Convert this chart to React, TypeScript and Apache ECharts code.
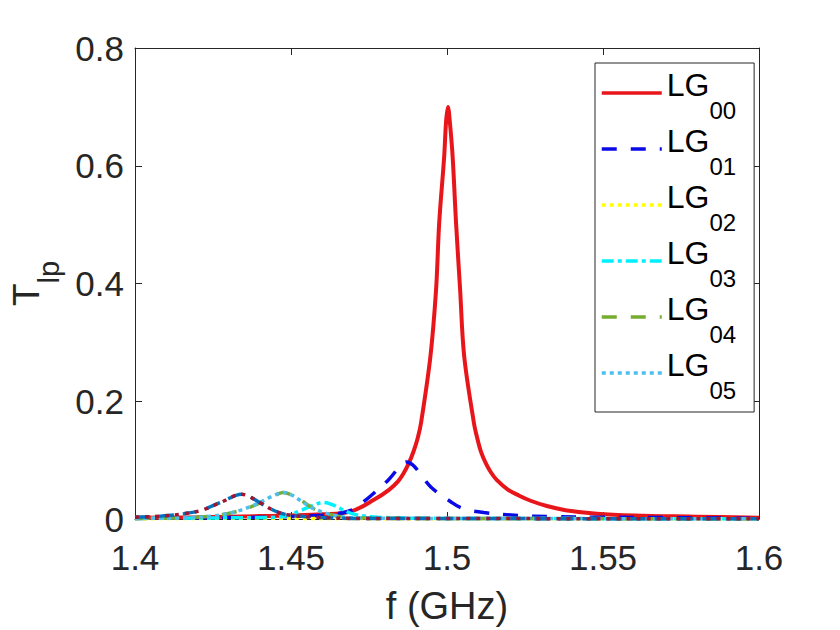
import React, { useEffect, useRef } from "react";
import * as echarts from "echarts";

const xTicks = [1.4, 1.45, 1.5, 1.55, 1.6];
const yTicks = [0, 0.2, 0.4, 0.6, 0.8];
const legendNames = ["LG00", "LG01", "LG02", "LG03", "LG04", "LG05"];

// [frequency (GHz), T_lp]
const lg00: number[][] = [
  [1.4, 0.002], [1.42, 0.003], [1.44, 0.005], [1.45, 0.006], [1.46, 0.008],
  [1.4693, 0.013], [1.4767, 0.033], [1.4815, 0.05], [1.4843, 0.064], [1.486, 0.077],
  [1.4877, 0.094], [1.4893, 0.115], [1.4906, 0.137], [1.4917, 0.164], [1.4947, 0.277],
  [1.4965, 0.39], [1.4975, 0.503], [1.4991, 0.616], [1.4997, 0.675], [1.5003, 0.7],
  [1.5009, 0.675], [1.5018, 0.616], [1.5029, 0.503], [1.5042, 0.39], [1.5055, 0.277],
  [1.5086, 0.164], [1.5097, 0.137], [1.5109, 0.114], [1.5125, 0.094], [1.5141, 0.079],
  [1.516, 0.066], [1.5195, 0.05], [1.523, 0.04], [1.5268, 0.031], [1.532, 0.022],
  [1.538, 0.015], [1.548, 0.009], [1.56, 0.006], [1.58, 0.004], [1.6, 0.002],
];
const lg01: number[][] = [
  [1.4, 0.001], [1.42, 0.002], [1.44, 0.003], [1.455, 0.005], [1.464, 0.008],
  [1.47, 0.016], [1.4725, 0.026], [1.4757, 0.04], [1.4815, 0.068], [1.4853, 0.092],
  [1.487, 0.097], [1.489, 0.092], [1.491, 0.08], [1.4949, 0.054], [1.5013, 0.029],
  [1.505, 0.018], [1.5118, 0.011], [1.5227, 0.006], [1.533, 0.004], [1.55, 0.003],
  [1.58, 0.002], [1.6, 0.001],
];
const lg02: number[][] = [
  [1.4, 0.0005], [1.42, 0.001], [1.44, 0.0015], [1.455, 0.001], [1.47, 0.0007],
  [1.5, 0.0004], [1.6, 0.0002],
];
const lg03: number[][] = [
  [1.4, 0.001], [1.43, 0.002], [1.445, 0.003], [1.449, 0.006], [1.4534, 0.015],
  [1.457, 0.023], [1.4603, 0.028], [1.463, 0.025], [1.4661, 0.017], [1.4703, 0.008],
  [1.478, 0.003], [1.5, 0.001], [1.6, 0.0005],
];
const lg04: number[][] = [
  [1.4, 0.001], [1.415, 0.002], [1.4246, 0.005], [1.432, 0.012], [1.4383, 0.023],
  [1.4438, 0.037], [1.4475, 0.045], [1.4505, 0.04], [1.4534, 0.031], [1.4575, 0.017],
  [1.464, 0.006], [1.47, 0.002], [1.5, 0.001], [1.6, 0.0005],
];
const lg05: number[][] = [
  [1.4, 0.001], [1.415, 0.002], [1.4246, 0.005], [1.432, 0.012], [1.4383, 0.024],
  [1.4438, 0.038], [1.4475, 0.045], [1.4505, 0.04], [1.4534, 0.03], [1.4575, 0.017],
  [1.464, 0.006], [1.47, 0.002], [1.5, 0.001], [1.6, 0.0005],
];
const lg06: number[][] = [
  [1.4, 0.003], [1.4086, 0.005], [1.4157, 0.009], [1.4214, 0.015], [1.4278, 0.029],
  [1.4342, 0.042], [1.4363, 0.039], [1.4406, 0.026], [1.4447, 0.014], [1.449, 0.007],
  [1.4575, 0.003], [1.47, 0.001], [1.6, 0.0005],
];
const lg07: number[][] = [
  [1.4, 0.003], [1.4086, 0.005], [1.4157, 0.009], [1.4214, 0.015], [1.4278, 0.029],
  [1.4342, 0.042], [1.4363, 0.039], [1.4406, 0.026], [1.4447, 0.014], [1.449, 0.007],
  [1.4575, 0.003], [1.47, 0.001], [1.6, 0.0005],
];

const FONT = "'Liberation Sans', Arial, Helvetica, sans-serif";
const AX = "#262626";

const seriesDefs = [
  { name: "LG00", data: lg00, color: "#e8161b", dash: "solid" as any, width: 4 },
  { name: "LG01", data: lg01, color: "#0a0ae6", dash: [15, 14], width: 3.5 },
  { name: "LG02", data: lg02, color: "#ffff00", dash: [4, 4], width: 3.5 },
  { name: "LG03", data: lg03, color: "#00f0ff", dash: [12, 4, 4, 4], width: 3.5 },
  { name: "LG04", data: lg04, color: "#77AC30", dash: [15, 14], width: 3.5 },
  { name: "LG05", data: lg05, color: "#4DBEEE", dash: [4, 4], width: 3.5 },
  { name: "LG06", data: lg06, color: "#0072BD", dash: [15, 9], width: 3.5 },
  { name: "LG07", data: lg07, color: "#A2142F", dash: [4, 6], width: 3.5 },
];

const fmt = (v: number) => String(Number(v.toFixed(2)));

export default function App() {
  const ref = useRef<HTMLDivElement>(null);
  useEffect(() => {
    if (!ref.current) return;
    const chart = echarts.init(ref.current, undefined, { renderer: "svg" });
    const tickCommon = { show: true, inside: true, length: 7, lineStyle: { color: AX, width: 1 } };
    const lineCommon = { show: true, onZero: false, lineStyle: { color: AX, width: 1 } };
    chart.setOption({
      animation: false,
      backgroundColor: "#fff",
      textStyle: { fontFamily: FONT },
      grid: { left: 133, top: 48, right: 81, bottom: 110, containLabel: false },
      xAxis: [
        {
          type: "value", min: xTicks[0], max: xTicks[xTicks.length - 1], interval: 0.05,
          position: "bottom",
          axisLine: lineCommon, axisTick: tickCommon, splitLine: { show: false },
          axisLabel: { fontSize: 35, color: AX, fontFamily: FONT, margin: 21, formatter: fmt },
          name: "f (GHz)", nameLocation: "middle", nameGap: 68,
          nameTextStyle: { fontSize: 38, color: AX, fontFamily: FONT },
        },
        {
          type: "value", min: xTicks[0], max: xTicks[xTicks.length - 1], interval: 0.05,
          position: "top",
          axisLine: lineCommon, axisTick: tickCommon, splitLine: { show: false },
          axisLabel: { show: false },
        },
      ],
      yAxis: [
        {
          type: "value", min: yTicks[0], max: yTicks[yTicks.length - 1], interval: 0.2,
          position: "left",
          axisLine: lineCommon, axisTick: tickCommon, splitLine: { show: false },
          axisLabel: { fontSize: 35, color: AX, fontFamily: FONT, margin: 11, formatter: fmt },
          name: "{t|T}{s|lp}", nameLocation: "middle", nameRotate: 90, nameGap: 72,
          nameTextStyle: {
            color: AX, fontFamily: FONT,
            rich: {
              t: { fontSize: 37, lineHeight: 55, verticalAlign: "top", padding: [0, 0, 0, 0], color: AX, fontFamily: FONT },
              s: { fontSize: 29, lineHeight: 55, verticalAlign: "top", padding: [26, 0, 0, 0], color: AX, fontFamily: FONT },
            },
          },
        },
        {
          type: "value", min: yTicks[0], max: yTicks[yTicks.length - 1], interval: 0.2,
          position: "right",
          axisLine: lineCommon, axisTick: tickCommon, splitLine: { show: false },
          axisLabel: { show: false },
        },
      ],
      legend: {
        data: legendNames,
        orient: "vertical",
        left: 595,
        top: 63,
        padding: [3, 18, 10, 5],
        itemGap: 0,
        itemWidth: 60,
        itemHeight: 14,
        borderColor: AX,
        borderWidth: 1,
        backgroundColor: "#fff",
        selectedMode: false,
        itemStyle: { opacity: 0, color: "rgba(0,0,0,0)", borderWidth: 0 },
        lineStyle: { width: 3.5 },
        formatter: (n: string) => `{t|LG}{s|${n.slice(2)}}`,
        textStyle: {
          color: "#000", fontFamily: FONT,
          rich: {
            t: { fontSize: 32, lineHeight: 54, padding: [3, 0, 0, 0], verticalAlign: "top", color: "#000", fontFamily: FONT },
            s: { fontSize: 24, lineHeight: 54, padding: [32, 0, 0, 0], verticalAlign: "top", color: "#000", fontFamily: FONT },
          },
        },
      },
      series: seriesDefs.map((s) => ({
        name: s.name,
        type: "line",
        xAxisIndex: 0,
        yAxisIndex: 0,
        data: s.data,
        showSymbol: false,
        symbol: "none",
        smooth: 0.35,
        clip: false,
        lineStyle: { color: s.color, width: s.width, type: s.dash },
        itemStyle: { color: s.color },
      })),
    });
    return () => chart.dispose();
  }, []);
  return <div ref={ref} style={{ position: "fixed", left: 0, top: 0, width: 840, height: 630 }} />;
}
